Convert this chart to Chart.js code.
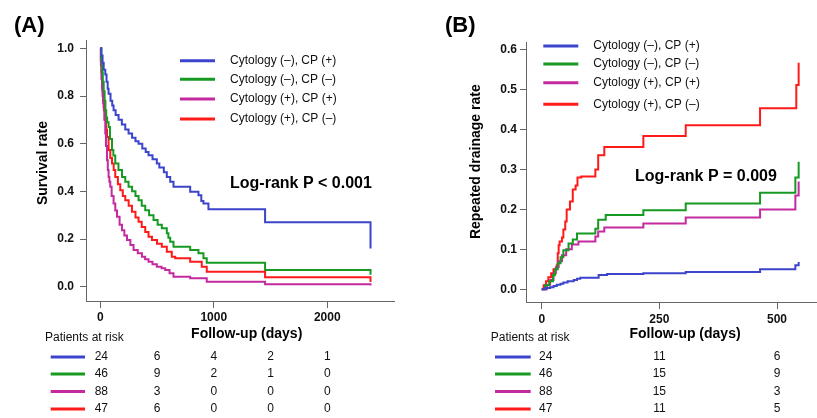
<!DOCTYPE html>
<html>
<head>
<meta charset="utf-8">
<script src="https://cdn.jsdelivr.net/npm/chart.js@4.4.1/dist/chart.umd.min.js"></script>
<style>
  html, body { margin: 0; padding: 0; background: #fff; }
  #wrap { position: relative; width: 817px; height: 418px; overflow: hidden; }
  #chartA { position: absolute; left: 0; top: 0; }
  #chartB { position: absolute; left: 410px; top: 0; }
</style>
</head>
<body>
<div id="wrap">
  <canvas id="chartA" width="410" height="418"></canvas>
  <canvas id="chartB" width="407" height="418"></canvas>
</div>
<script>
// groups, in legend order
const groupNames = [
  'Cytology (\u2013), CP (+)',
  'Cytology (\u2013), CP (\u2013)',
  'Cytology (+), CP (+)',
  'Cytology (+), CP (\u2013)'
];
const groupColors = ['#3c44cc', '#169a22', '#c42a9e', '#ff1a1a'];

// (A) survival rate, [day, rate] at each step
const survBlueA = [[0,1],[10,0.97],[20,0.94],[30,0.91],[44,0.89],[55,0.86],[65,0.83],[73,0.81],[90,0.78],[105,0.76],[117,0.74],[135,0.72],[161,0.70],[190,0.68],[220,0.66],[249,0.643],[280,0.625],[310,0.61],[337,0.60],[370,0.58],[400,0.565],[425,0.552],[460,0.535],[498,0.517],[520,0.50],[560,0.48],[586,0.46],[616,0.44],[645,0.419],[792,0.398],[865,0.384],[890,0.36],[909,0.349],[953,0.325],[1452,0.27],[2381,0.16]];
const survGreenA = [[0,1],[8,0.95],[15,0.9],[22,0.86],[30,0.82],[38,0.78],[45,0.74],[52,0.71],[60,0.69],[73,0.67],[85,0.62],[103,0.573],[115,0.55],[132,0.517],[160,0.49],[191,0.46],[220,0.44],[249,0.419],[280,0.40],[310,0.38],[337,0.363],[365,0.34],[396,0.321],[430,0.30],[469,0.28],[505,0.26],[542,0.245],[586,0.224],[600,0.205],[616,0.189],[645,0.168],[792,0.154],[865,0.14],[909,0.119],[938,0.10],[1452,0.07],[2381,0.05]];
const survMagentaA = [[0,1],[5,0.93],[10,0.87],[15,0.83],[20,0.8],[25,0.77],[29,0.754],[36,0.70],[44,0.643],[50,0.59],[59,0.53],[66,0.49],[73,0.46],[80,0.44],[88,0.419],[100,0.38],[117,0.349],[132,0.32],[147,0.293],[170,0.26],[191,0.237],[212,0.215],[235,0.196],[265,0.175],[293,0.154],[330,0.14],[367,0.126],[395,0.115],[425,0.105],[460,0.094],[498,0.084],[540,0.077],[572,0.07],[610,0.056],[645,0.042],[792,0.035],[938,0.021],[1452,0.01],[2381,0.005]];
const survRedA = [[0,1],[5,0.95],[10,0.9],[15,0.86],[20,0.82],[25,0.78],[32,0.74],[40,0.70],[50,0.66],[59,0.628],[73,0.573],[88,0.54],[103,0.517],[118,0.49],[132,0.46],[155,0.43],[176,0.405],[198,0.38],[220,0.363],[250,0.34],[279,0.314],[310,0.29],[337,0.272],[365,0.25],[396,0.23],[425,0.21],[455,0.196],[500,0.18],[542,0.168],[586,0.147],[630,0.126],[660,0.119],[792,0.105],[894,0.084],[938,0.063],[1452,0.04],[2381,0.02]];

// (B) repeated drainage rate, [day, rate] at each step
const drainBlueB = [[0,0],[8,0.003],[18,0.005],[25,0.008],[32,0.011],[40,0.014],[46,0.017],[55,0.02],[68,0.023],[75,0.026],[82,0.029],[121,0.036],[139,0.038],[216,0.04],[306,0.043],[464,0.05],[539,0.06],[546,0.068]];
const drainGreenB = [[0,0],[7,0.01],[16,0.02],[24,0.035],[28,0.05],[34,0.065],[40,0.08],[46,0.098],[57,0.115],[66,0.125],[75,0.14],[114,0.152],[120,0.174],[136,0.186],[216,0.198],[306,0.215],[464,0.242],[539,0.28],[546,0.32]];
const drainMagentaB = [[0,0],[11,0.011],[18,0.023],[25,0.04],[30,0.055],[36,0.07],[43,0.085],[52,0.1],[64,0.112],[78,0.12],[114,0.132],[120,0.145],[133,0.155],[216,0.165],[306,0.18],[464,0.2],[539,0.235],[546,0.27]];
const drainRedB = [[0,0],[4,0.01],[9,0.02],[14,0.03],[20,0.04],[25,0.05],[32,0.06],[34,0.09],[36,0.11],[38,0.12],[43,0.13],[46,0.15],[50,0.17],[53,0.2],[60,0.22],[66,0.25],[72,0.26],[76,0.28],[84,0.283],[114,0.30],[120,0.336],[133,0.357],[216,0.384],[306,0.411],[464,0.454],[541,0.512],[546,0.568]];

// ticks
const xTicksA = [0, 1000, 2000];
const yTicksA = [0, 0.2, 0.4, 0.6, 0.8, 1.0];
const xTicksB = [0, 250, 500];
const yTicksB = [0, 0.1, 0.2, 0.3, 0.4, 0.5, 0.6];

// patients at risk
const riskDaysA = [0, 500, 1000, 1500, 2000];
const riskA = [[24, 6, 4, 2, 1], [46, 9, 2, 1, 0], [88, 3, 0, 0, 0], [47, 6, 0, 0, 0]];
const riskDaysB = [0, 250, 500];
const riskB = [[24, 11, 6], [46, 15, 9], [88, 15, 3], [47, 11, 5]];

const FONT = '"Liberation Sans", Arial, Helvetica, sans-serif';
const riskRowY = [357, 374, 391.5, 409];

function decorPlugin(p) {
  return {
    id: 'decor',
    afterDraw(chart) {
      const ctx = chart.ctx;
      const xs = chart.scales.x;
      ctx.save();
      ctx.fillStyle = '#000';
      ctx.textBaseline = 'middle';

      ctx.font = 'bold 22px ' + FONT;
      ctx.textAlign = 'left';
      ctx.fillText(p.label, p.labelX, 26);

      // legend
      ctx.font = '12px ' + FONT;
      groupNames.forEach((name, i) => {
        ctx.strokeStyle = groupColors[i];
        ctx.lineWidth = 3;
        ctx.beginPath();
        ctx.moveTo(p.legLine[0], p.legY[i]);
        ctx.lineTo(p.legLine[1], p.legY[i]);
        ctx.stroke();
        ctx.fillStyle = '#111';
        ctx.fillText(name, p.legTextX, p.legY[i]);
      });

      ctx.fillStyle = '#000';
      ctx.font = 'bold 16px ' + FONT;
      ctx.fillText(p.pText, p.pX, p.pY);

      // axis titles
      ctx.font = 'bold 14px ' + FONT;
      ctx.textAlign = 'center';
      ctx.fillText('Follow-up (days)', p.xTitleX, 334);
      ctx.save();
      ctx.translate(p.yTitleX, p.yTitleY);
      ctx.rotate(-Math.PI / 2);
      ctx.fillText(p.yTitle, 0, 0);
      ctx.restore();

      // patients at risk
      ctx.font = '12px ' + FONT;
      ctx.textAlign = 'left';
      ctx.fillStyle = '#111';
      ctx.fillText('Patients at risk', p.riskTitleX, 338);
      p.risk.forEach((row, i) => {
        ctx.strokeStyle = groupColors[i];
        ctx.lineWidth = 3;
        ctx.beginPath();
        ctx.moveTo(p.riskLine[0], riskRowY[i]);
        ctx.lineTo(p.riskLine[1], riskRowY[i]);
        ctx.stroke();
        ctx.textAlign = 'center';
        row.forEach((n, j) => {
          const x = xs.getPixelForValue(p.riskDays[j]) + (j === 0 ? p.firstColShift : 0);
          ctx.fillText(String(n), x, riskRowY[i]);
        });
      });
      ctx.restore();
    }
  };
}

function makeDatasets(series) {
  return series.map((pts, i) => ({
    label: groupNames[i],
    data: pts.map(d => ({ x: d[0], y: d[1] })),
    borderColor: groupColors[i],
    borderWidth: 2,
    pointRadius: 0,
    stepped: 'before',
    fill: false
  }));
}

function axisOpts(min, max, ticks, tickPad, fmt, fixSize, horizontal) {
  return {
    type: 'linear',
    min: min,
    max: max,
    afterBuildTicks: s => { s.ticks = ticks.map(v => ({ value: v })); },
    afterFit: s => { if (horizontal) s.height = fixSize; else s.width = fixSize; },
    grid: { display: true, drawOnChartArea: false, drawTicks: true, tickLength: horizontal ? 7 : 6, color: '#666', lineWidth: 1 },
    border: { display: true, color: '#666', width: 1 },
    ticks: {
      color: '#111',
      padding: tickPad,
      font: { family: FONT, size: 12, weight: 'bold' },
      callback: fmt,
      maxRotation: 0,
      autoSkip: false
    }
  };
}

function makeChart(id, series, x, y, padding, decor) {
  return new Chart(document.getElementById(id), {
    type: 'line',
    data: { datasets: makeDatasets(series) },
    options: {
      responsive: false,
      animation: false,
      parsing: true,
      layout: { padding: padding },
      plugins: { legend: { display: false }, tooltip: { enabled: false } },
      scales: { x: x, y: y }
    },
    plugins: [decorPlugin(decor)]
  });
}

makeChart('chartA',
  [survBlueA, survGreenA, survMagentaA, survRedA],
  axisOpts(-126, 2588, xTicksA, 2, v => String(v), 30, true),
  axisOpts(-0.06, 1.035, yTicksA, 6, v => v.toFixed(1), 60, false),
  { left: 26, right: 16, top: 40, bottom: 87 },
  {
    label: '(A)', labelX: 14,
    legLine: [180, 215], legY: [60.7, 79.3, 99, 119], legTextX: 230,
    pText: 'Log-rank P < 0.001', pX: 230, pY: 183.5,
    xTitleX: 246.7, yTitle: 'Survival rate', yTitleX: 43, yTitleY: 163,
    riskTitleX: 45, riskLine: [50.7, 85], riskDays: riskDaysA, risk: riskA, firstColShift: 1
  });

makeChart('chartB',
  [drainBlueB, drainGreenB, drainMagentaB, drainRedB],
  axisOpts(-33.4, 585, xTicksB, 3, v => String(v), 30, true),
  axisOpts(-0.032, 0.62, yTicksB, 3, v => v.toFixed(1), 60, false),
  { left: 56, right: 0, top: 42, bottom: 86 },
  {
    label: '(B)', labelX: 35,
    legLine: [133.3, 168.3], legY: [46, 64, 82.7, 104.3], legTextX: 183.3,
    pText: 'Log-rank P = 0.009', pX: 225, pY: 177,
    xTitleX: 275, yTitle: 'Repeated drainage rate', yTitleX: 65.7, yTitleY: 161.7,
    riskTitleX: 80.7, riskLine: [85, 120.7], riskDays: riskDaysB, risk: riskB, firstColShift: 4
  });
</script>
</body>
</html>
